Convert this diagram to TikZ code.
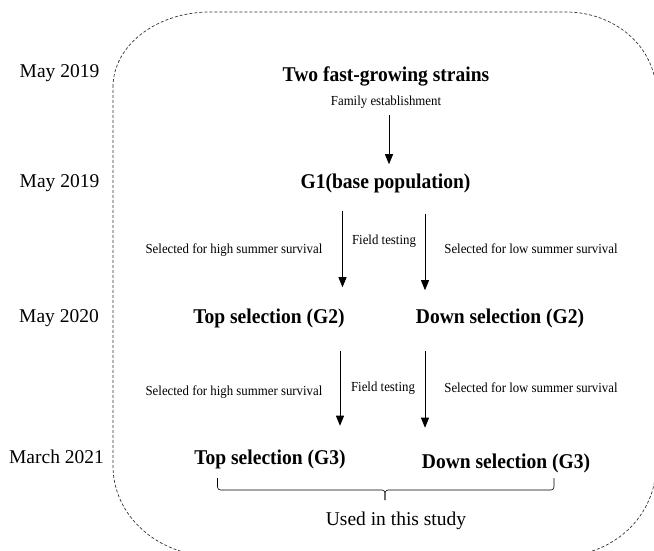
\documentclass[tikz,border=0pt]{standalone}
\usepackage{fontspec}
\setmainfont{Liberation Serif}
\newfontfamily\condserif[FakeStretch=0.93]{Liberation Serif}
\usetikzlibrary{arrows.meta}
\tikzset{
  border/.style={draw=black!80, line width=0.7pt, dash pattern=on 3pt off 2pt},
  datelbl/.style={anchor=base, inner sep=0pt, font=\fontsize{19.5}{22}\selectfont},
  titlelbl/.style={anchor=base, inner sep=0pt, font=\condserif\fontsize{21}{24}\selectfont\bfseries},
  smalllbl/.style={anchor=base, inner sep=0pt, font=\condserif\fontsize{13.8}{15}\selectfont},
  arr/.style={-{Triangle[width=8pt,length=10pt]}, line width=0.8pt},
  bracelbl/.style={line width=0.6pt, rounded corners=3pt}
}
\begin{document}
\begin{tikzpicture}[x=1pt,y=-1pt]
\useasboundingbox (0,0) rectangle (654,550);
\begin{scope}
\clip (0,0) rectangle (654,550);
\draw[border] (113,87) .. controls (113,45.6) and (156.4,12) .. (210,12)
  -- (566,12) .. controls (615.7,12) and (656,47.8) .. (656,92)
  -- (656,466) .. controls (656,515.7) and (613.5,556) .. (561,556)
  -- (213,556) .. controls (157.8,556) and (113,515.7) .. (113,466) -- cycle;
\end{scope}
% dates
\node[datelbl] (d1) at (59.5,77) {May 2019};
\node[datelbl] (d2) at (59.5,187) {May 2019};
\node[datelbl] (d3) at (59,322) {May 2020};
\node[datelbl] (d4) at (56.5,463) {March 2021};
% main nodes
\node[titlelbl] (s0) at (386,81) {Two fast-growing strains};
\node[smalllbl] (fam) at (386,105) {Family establishment};
\node[titlelbl] (g1) at (385.5,188) {G1(base population)};
\node[titlelbl] (top2) at (269,323) {Top selection (G2)};
\node[titlelbl] (down2) at (500,323) {Down selection (G2)};
\node[titlelbl] (top3) at (270,464) {Top selection (G3)};
\node[titlelbl] (down3) at (506,468) {Down selection (G3)};
\node[datelbl] (used) at (396,525) {Used in this study};
% arrow labels
\node[smalllbl] (hi1) at (234,253) {Selected for high summer survival};
\node[smalllbl] (ft1) at (384,244) {Field testing};
\node[smalllbl] (lo1) at (531,253) {Selected for low summer survival};
\node[smalllbl] (hi2) at (234,395) {Selected for high summer survival};
\node[smalllbl] (ft2) at (383,391) {Field testing};
\node[smalllbl] (lo2) at (531,392) {Selected for low summer survival};
% columns
\coordinate (c0) at (389,0);
\coordinate (cL1) at (342.5,0);
\coordinate (cR1) at (425,0);
\coordinate (cL2) at (340,0);
\coordinate (cR2) at (425,0);
% arrows
\draw[arr, shorten <=7pt, shorten >=9pt] (fam.south -| c0) -- (g1.north -| c0);
\draw[arr, shorten <=18pt, shorten >=21pt] (g1.south -| cL1) -- (top2.north -| cL1);
\draw[arr, shorten <=21pt, shorten >=18pt] (g1.south -| cR1) -- (down2.north -| cR1);
\draw[arr, shorten <=23pt, shorten >=23.5pt] (top2.south -| cL2) -- (top3.north -| cL2);
\draw[arr, shorten <=23pt, shorten >=25.5pt] (down2.south -| cR2) -- (down3.north -| cR2);
% brace
\draw[bracelbl] (217.5,478) -- (217.5,490) -- (385,490) -- (385,500);
\draw[bracelbl] (554,478) -- (554,490) -- (385,490) -- (385,500);
\end{tikzpicture}
\end{document}
